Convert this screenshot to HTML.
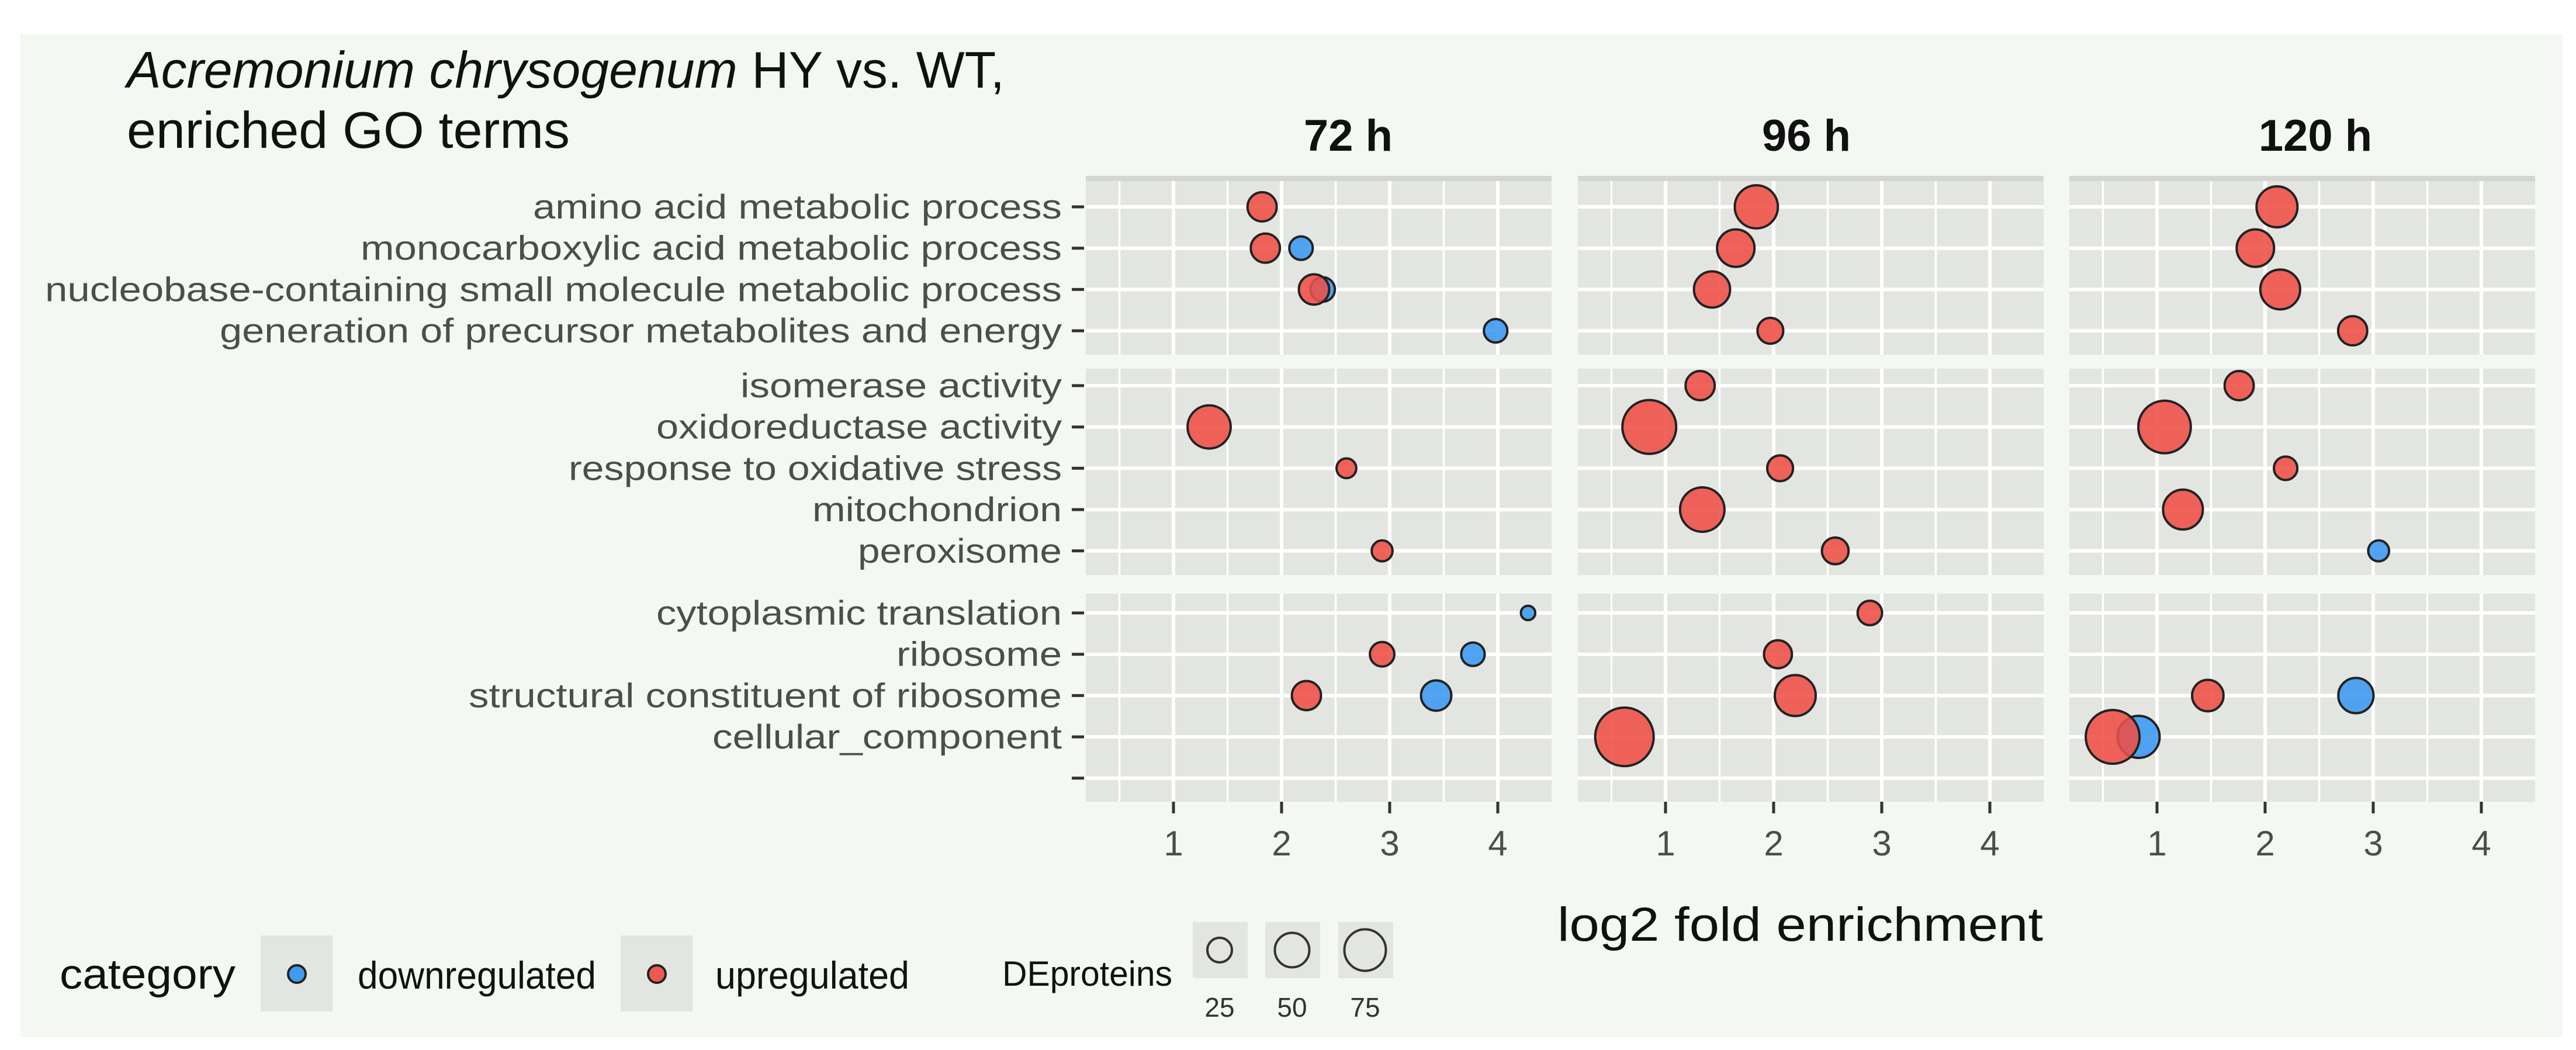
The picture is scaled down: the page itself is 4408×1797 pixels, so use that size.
<!DOCTYPE html>
<html><head><meta charset="utf-8"><style>
html,body{margin:0;padding:0;background:#fff;}
svg{display:block;}
text{font-family:"Liberation Sans",sans-serif;}
</style></head><body>
<svg id="chart" width="4408" height="1797" viewBox="0 0 4408 1797" xmlns="http://www.w3.org/2000/svg">
<rect x="35" y="59" width="4350" height="1716" fill="#f3f8f2"/>
<text x="217" y="150" font-size="88" fill="#111" textLength="1502" lengthAdjust="spacingAndGlyphs"><tspan font-style="italic">Acremonium chrysogenum</tspan> HY vs. WT,</text>
<text x="217" y="253" font-size="88" fill="#111" textLength="758" lengthAdjust="spacingAndGlyphs">enriched GO terms</text>
<g id="panels"></g>
<g id="ylabels"></g>
<g id="marks"></g>
<g id="xaxis"></g>
<text x="2665" y="1610" font-size="82" fill="#111" textLength="831" lengthAdjust="spacingAndGlyphs">log2 fold enrichment</text>
<g>
<text x="102" y="1692" font-size="72" fill="#111" textLength="301" lengthAdjust="spacingAndGlyphs">category</text>
<g>
<rect x="446" y="1601" width="123" height="130" fill="#e2e5e0"/>
<circle cx="508" cy="1667" r="15" fill="#3e9bf0" stroke="#222" stroke-width="4"/>
<text x="612" y="1692" font-size="66" fill="#111" textLength="408" lengthAdjust="spacingAndGlyphs">downregulated</text>
</g>
<g>
<rect x="1062" y="1601" width="123" height="130" fill="#e2e5e0"/>
<circle cx="1124" cy="1667" r="15" fill="#ee5a50" stroke="#222" stroke-width="4"/>
<text x="1224" y="1692" font-size="66" fill="#111" textLength="332" lengthAdjust="spacingAndGlyphs">upregulated</text>
</g>
</g>
<g>
<text x="1715" y="1687" font-size="60" fill="#111" textLength="291" lengthAdjust="spacingAndGlyphs">DEproteins</text>
<g id="sizelegend"></g>
</g>
</svg>
<script>
const NS="http://www.w3.org/2000/svg";
const terms=[["amino acid metabolic process","monocarboxylic acid metabolic process","nucleobase-containing small molecule metabolic process","generation of precursor metabolites and energy"],
["isomerase activity","oxidoreductase activity","response to oxidative stress","mitochondrion","peroxisome"],
["cytoplasmic translation","ribosome","structural constituent of ribosome","cellular_component",""]];
const timepoints=["72 h","96 h","120 h"];
const xTicks=[1,2,3,4];
const sizeLegendValues=[25,50,75];
// points: [timepoint index, row, term index, log2 fold enrichment, DEproteins, category]
const pts72=[[0,0,0,1.82,37,"up"],[0,0,1,2.18,24,"down"],[0,0,1,1.85,37,"up"],[0,0,2,2.38,26,"down"],[0,0,2,2.30,40,"up"],[0,0,3,3.98,24,"down"],
[0,1,1,1.33,81,"up"],[0,1,2,2.60,17,"up"],[0,1,4,2.93,19,"up"],
[0,2,0,4.28,9,"down"],[0,2,1,3.77,24,"down"],[0,2,1,2.93,26,"up"],[0,2,2,3.43,40,"down"],[0,2,2,2.23,37,"up"]];
const pts96=[[1,0,0,1.84,81,"up"],[1,0,1,1.65,61,"up"],[1,0,2,1.43,57,"up"],[1,0,3,1.97,29,"up"],
[1,1,0,1.32,37,"up"],[1,1,1,0.85,126,"up"],[1,1,2,2.06,29,"up"],[1,1,3,1.34,86,"up"],[1,1,4,2.57,31,"up"],
[1,2,0,2.89,26,"up"],[1,2,1,2.04,34,"up"],[1,2,2,2.20,73,"up"],[1,2,3,0.62,149,"up"]];
const pts120=[[2,0,0,2.11,73,"up"],[2,0,1,1.91,61,"up"],[2,0,2,2.14,69,"up"],[2,0,3,2.81,37,"up"],
[2,1,0,1.76,37,"up"],[2,1,1,1.07,120,"up"],[2,1,2,2.19,24,"up"],[2,1,3,1.24,69,"up"],[2,1,4,3.05,19,"down"],
[2,2,2,2.84,54,"down"],[2,2,2,1.47,43,"up"],[2,2,3,0.83,77,"down"],[2,2,3,0.59,126,"up"]];

const panelLeft=[1858,2700,3541], panelW=797;
const rowTop=[301,631,1016], rowBot=[607,984,1372], rowFirst=[354,660,1049], step=70.7;
const unit=185;
function xs(p,v){return panelLeft[p]-35+v*unit;}
function ys(r,i){return rowFirst[r]+i*step;}
function rs(n){return 4.1*Math.sqrt(n);}
function mk(tag,attrs,parent){const e=document.createElementNS(NS,tag);for(const k in attrs)e.setAttribute(k,attrs[k]);parent.appendChild(e);return e;}

const panels=document.getElementById('panels');
const stripX=[2307,3091,3962];
for(let p=0;p<3;p++){
  const t=mk('text',{x:stripX[p],y:258,'font-size':76,'font-weight':'bold','text-anchor':'middle',fill:'#111'},panels);
  t.textContent=timepoints[p];
  
  
  for(let r=0;r<3;r++){
    const g=mk('g',{},panels);
    
    
    mk('rect',{x:panelLeft[p],y:rowTop[r],width:panelW,height:rowBot[r]-rowTop[r],fill:'#e2e5e0'},g);
    if(r===0) mk('rect',{x:panelLeft[p],y:rowTop[r],width:panelW,height:9,fill:'#d3d6d1'},g);
    for(let v=0.5;v<=4.01;v+=0.5){
      const x=xs(p,v);
      mk('line',{x1:x,x2:x,y1:rowTop[r]+(r===0?9:0),y2:rowBot[r],stroke:'#fff','stroke-width':(v%1===0)?6:3.5},g);
    }
    for(let i=0;i<terms[r].length;i++){
      const y=ys(r,i);
      mk('line',{x1:panelLeft[p],x2:panelLeft[p]+panelW,y1:y,y2:y,stroke:'#fff','stroke-width':6},g);
    }
  }
}
const ylab=document.getElementById('ylabels');
const labW=[[905,1200,1740,1441],[550,694,844,427,349],[694,283,1015,598,0]];
for(let r=0;r<3;r++)for(let i=0;i<terms[r].length;i++){
  const y=ys(r,i);
  const tk=mk('line',{x1:1834,x2:1855,y1:y,y2:y,stroke:'#333','stroke-width':5},ylab);
  
  
  if(terms[r][i]){
    const t=mk('text',{x:1817,y:y+20,'font-size':58,'text-anchor':'end',fill:'#4d4d4d',textLength:labW[r][i],lengthAdjust:'spacingAndGlyphs'},ylab);
    t.textContent=terms[r][i];
    
    
  }
}
const xa=document.getElementById('xaxis');
for(let p=0;p<3;p++)for(const v of xTicks){
  const x=xs(p,v);
  const l=mk('line',{x1:x,x2:x,y1:1372,y2:1392,stroke:'#333','stroke-width':5},xa);
  
  
  const t=mk('text',{x:x,y:1464,'font-size':60,'text-anchor':'middle',fill:'#4d4d4d'},xa);
  t.textContent=v;
  
  
}
const marks=document.getElementById('marks');
const all=pts72.concat(pts96,pts120);
for(const d of all){
  const c=mk('circle',{cx:xs(d[0],d[3]),cy:ys(d[1],d[2]),r:rs(d[4]),fill:d[5]==="up"?'#ee4f45':'#3a98f0','fill-opacity':0.88,stroke:'#222','stroke-width':4},marks);
  
  
}
const sl=document.getElementById('sizelegend');
const keyX=[2041,2165,2290], legR=[21,29.5,35.5];
sizeLegendValues.forEach((v,i)=>{
  const k=mk('rect',{x:keyX[i],y:1578,width:94,height:96,fill:'#e2e5e0'},sl);
  
  
  const c=mk('circle',{cx:keyX[i]+46,cy:1626,r:legR[i],fill:'none',stroke:'#333','stroke-width':4},sl);
  
  
  const t=mk('text',{x:keyX[i]+46,y:1740,'font-size':46,'text-anchor':'middle',fill:'#333'},sl);
  t.textContent=v;
  
  
});
</script>
</body></html>
